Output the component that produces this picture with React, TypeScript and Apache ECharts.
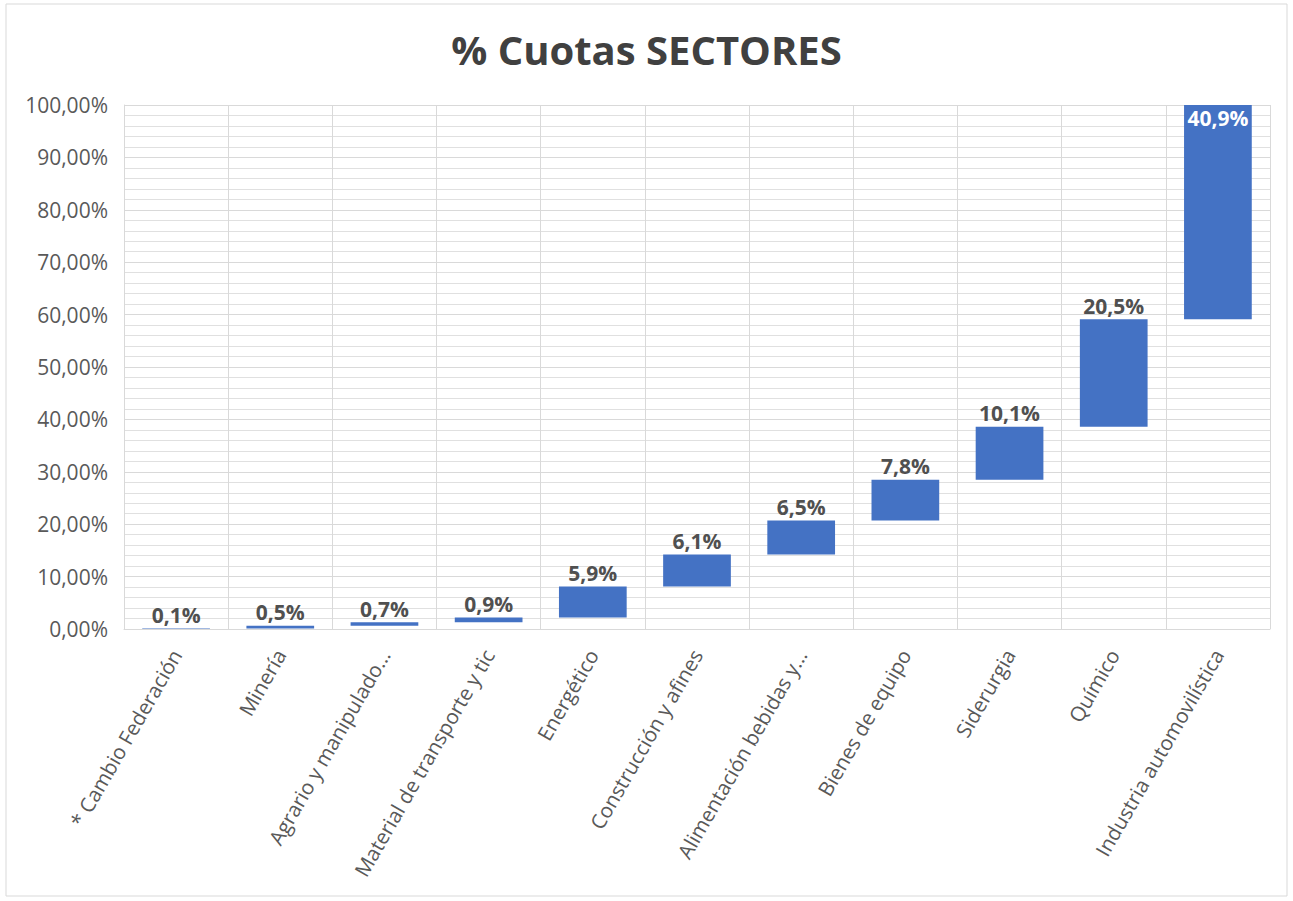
import React, { useEffect, useRef } from "react";
import * as echarts from "echarts";

const categories = [
  "* Cambio Federación",
  "Minería",
  "Agrario y manipulado...",
  "Material de transporte y tic",
  "Energético",
  "Construcción y afines",
  "Alimentación bebidas y...",
  "Bienes de equipo",
  "Siderurgia",
  "Químico",
  "Industria automovilística",
];
const shares = [0.1, 0.5, 0.7, 0.9, 5.9, 6.1, 6.5, 7.8, 10.1, 20.5, 40.9];
const yTicks = [0, 10, 20, 30, 40, 50, 60, 70, 80, 90, 100];

const fmt = (v: number, d: number) => v.toFixed(d).replace(".", ",") + "%";

export default function App() {
  const ref = useRef<HTMLDivElement>(null);
  useEffect(() => {
    if (!ref.current) return;
    const chart = echarts.init(ref.current, undefined, { renderer: "svg" });
    const bases: number[] = [];
    let acc = 0;
    shares.forEach((s) => {
      bases.push(Math.round(acc * 10) / 10);
      acc += s;
    });
    const font = "'Open Sans', 'Noto Sans', sans-serif";
    chart.setOption({
      animation: false,
      textStyle: { fontFamily: font },
      title: {
        text: "% Cuotas SECTORES",
        left: "center",
        top: 24,
        textStyle: { fontSize: 40, fontWeight: "bold", color: "#404040", fontFamily: font },
      },
      graphic: [
        {
          type: "rect",
          shape: { x: 6, y: 4, width: 1281, height: 892 },
          style: { fill: "none", stroke: "#d9d9d9", lineWidth: 1 },
          silent: true,
        },
      ],
      grid: { left: 124, right: 23, top: 105, bottom: 272 },
      xAxis: {
        type: "category",
        data: categories,
        axisLine: { show: true, lineStyle: { color: "#d9d9d9" } },
        axisTick: { show: false },
        splitLine: { show: true, lineStyle: { color: "#d9d9d9" } },
        axisLabel: {
          rotate: 60,
          color: "#595959",
          fontSize: 20.5,
          margin: 22,
          interval: 0,
          fontFamily: font,
        },
      },
      yAxis: {
        type: "value",
        min: yTicks[0],
        max: yTicks[yTicks.length - 1],
        interval: 10,
        axisLine: { show: true, lineStyle: { color: "#d9d9d9" } },
        axisTick: { show: false },
        axisLabel: {
          color: "#595959",
          fontSize: 21,
          margin: 16,
          formatter: (v: number) => fmt(v, 2),
          fontFamily: font,
        },
        splitLine: { show: true, lineStyle: { color: "#d9d9d9" } },
        minorTick: { show: false, splitNumber: 5 },
        minorSplitLine: { show: true, lineStyle: { color: "#e0e0e0" } },
      },
      series: [
        {
          type: "bar",
          stack: "w",
          data: bases,
          itemStyle: { color: "transparent" },
          silent: true,
          barWidth: "65%",
        },
        {
          type: "bar",
          stack: "w",
          data: shares.map((v, i) =>
            i === shares.length - 1
              ? {
                  value: v,
                  label: {
                    position: "insideTop",
                    color: "#ffffff",
                    distance: 2,
                  },
                }
              : v
          ),
          barWidth: "65%",
          itemStyle: { color: "#4472C4" },
          label: {
            show: true,
            position: "top",
            distance: 3,
            color: "#505050",
            fontWeight: "bold",
            fontSize: 21,
            fontFamily: font,
            formatter: (p: any) => fmt(p.value, 1),
          },
        },
      ],
    });
    return () => chart.dispose();
  }, []);
  return (
    <div
      ref={ref}
      style={{ position: "fixed", left: 0, top: 0, width: 1293, height: 901, background: "#fff" }}
    />
  );
}
